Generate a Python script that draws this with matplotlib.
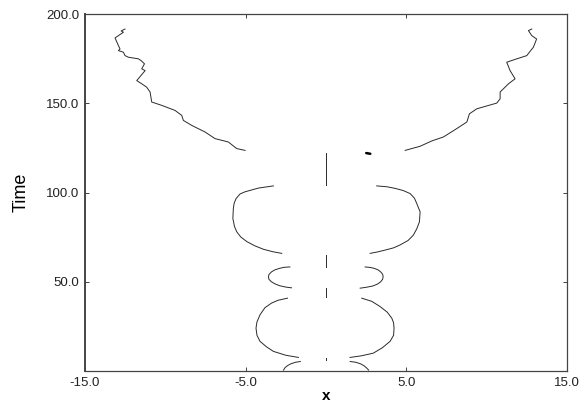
import matplotlib
matplotlib.use("Agg")
import matplotlib.pyplot as plt

plt.rcParams['font.family'] = ['Liberation Sans', 'DejaVu Sans']

# ---- data ----
x_ticks = [-15.0, -5.0, 5.0, 15.0]
y_ticks = [50.0, 100.0, 150.0, 200.0]

# bottom arcs
arc_left_x = [-2.65, -2.55, -2.4, -2.2, -1.9, -1.6]
arc_left_t = [0.5, 1.9, 3.0, 4.0, 4.9, 5.3]
arc_right_x = [1.5, 1.85, 2.15, 2.35, 2.5, 2.65]
arc_right_t = [5.3, 4.9, 4.0, 3.0, 1.9, 0.5]

# lobe 1 (t ~ 7 - 41)
lobe1_left_x = [-2.4, -3.0, -3.4, -3.8, -4.11, -4.3, -4.36, -4.3, -4.11, -3.7, -3.28, -2.5, -1.72]
lobe1_left_t = [40.8, 39.6, 38.0, 35.5, 31.5, 27.5, 24.0, 20.0, 16.6, 13.5, 11.0, 8.8, 7.6]
lobe1_right_x = [2.22, 2.85, 3.36, 3.8, 4.09, 4.2, 4.23, 4.2, 3.98, 3.5, 2.94, 2.2, 1.49]
lobe1_right_t = [40.8, 39.0, 36.1, 33.0, 29.6, 27.0, 24.0, 20.0, 16.6, 13.0, 10.0, 8.5, 7.6]

# lobe 2 (t ~ 46 - 58)
lobe2_left_x = [-2.25, -2.6, -2.9, -3.2, -3.4, -3.55, -3.59, -3.55, -3.4, -3.2, -2.9, -2.5, -2.15]
lobe2_left_t = [58.3, 58.1, 57.5, 56.6, 55.5, 54.1, 52.7, 51.3, 50.0, 48.9, 47.8, 47.0, 46.6]
lobe2_right_x = [2.43, 2.75, 3.0, 3.25, 3.4, 3.52, 3.55, 3.52, 3.4, 3.2, 2.9, 2.5, 2.12]
lobe2_right_t = [58.3, 58.0, 57.5, 56.6, 55.5, 54.2, 52.9, 51.4, 50.0, 48.7, 47.6, 46.9, 46.4]

# lobe 3 (t ~ 66 - 104)
lobe3_left_x = [-3.28, -4.2, -5.04, -5.35, -5.6, -5.72, -5.77, -5.8, -5.7, -5.56, -5.3, -4.93, -4.45, -3.9, -3.3, -2.76]
lobe3_left_t = [103.7, 102.5, 100.4, 99.2, 96.6, 94.0, 91.0, 85.5, 81.0, 78.0, 75.0, 72.5, 70.2, 68.2, 66.8, 65.9]
lobe3_right_x = [3.15, 3.8, 4.3, 4.8, 5.23, 5.5, 5.64, 5.85, 5.81, 5.65, 5.43, 5.1, 4.6, 4.2, 3.7, 3.2, 2.74]
lobe3_right_t = [103.7, 103.2, 102.3, 101.1, 99.4, 96.8, 93.9, 89.2, 83.6, 79.8, 76.1, 73.1, 70.6, 69.0, 67.8, 66.7, 65.9]

# upper fronts (t ~ 123 - 192)
upper_left_x = [-5.04, -5.56, -6.08, -6.91, -7.53, -8.36, -8.88, -8.98, -9.4, -10.22,
                -10.85, -10.95, -11.16, -11.47, -11.78, -11.26, -11.47, -11.3, -11.51,
                -11.68, -12.3, -12.51, -12.61, -12.92, -12.82, -12.92, -13.13, -12.61,
                -12.75, -12.51]
upper_left_t = [123.6, 124.6, 128.3, 130.2, 133.9, 137.6, 140.4, 143.2, 146.0, 148.8,
                150.7, 156.3, 159.0, 160.9, 162.7, 168.3, 169.3, 172.1, 173.9,
                174.9, 175.8, 176.7, 178.6, 179.5, 180.4, 182.3, 186.6, 189.8,
                190.5, 191.6]
upper_right_x = [4.92, 5.85, 6.58, 7.3, 8.13, 8.76, 8.92, 9.38, 10.62, 10.83, 10.83,
                 11.35, 11.76, 11.45, 11.24, 11.87, 12.49, 12.65, 12.9, 13.1, 12.8,
                 12.59, 12.8]
upper_right_t = [123.6, 125.9, 128.9, 131.1, 135.8, 139.5, 144.1, 146.9, 150.1, 152.5,
                 156.3, 160.9, 163.7, 168.3, 173.0, 174.9, 176.7, 178.6, 181.4, 186.0,
                 187.9, 190.7, 191.6]

# central segments at x = 0
center_t_start = [6.0, 41.7, 58.5, 104.0]
center_t_end = [7.5, 46.4, 65.0, 122.0]

# small mark near the top of the centre line
mark_x = [2.5, 2.75]
mark_t = [122.1, 121.7]

# ---- plotting ----
fig = plt.figure(figsize=(5.83, 4.04), dpi=100)
ax = fig.add_axes([0.1458, 0.0817, 0.827, 0.8836])

lc = '#2a2a2a'
lw = 0.7
pairs = [
    (arc_left_x, arc_left_t), (arc_right_x, arc_right_t),
    (lobe1_left_x, lobe1_left_t), (lobe1_right_x, lobe1_right_t),
    (lobe2_left_x, lobe2_left_t), (lobe2_right_x, lobe2_right_t),
    (lobe3_left_x, lobe3_left_t), (lobe3_right_x, lobe3_right_t),
    (upper_left_x, upper_left_t), (upper_right_x, upper_right_t),
]
for xs, ts in pairs:
    ax.plot(xs, ts, color=lc, lw=lw)

for t0, t1 in zip(center_t_start, center_t_end):
    ax.plot([0, 0], [t0, t1], color=lc, lw=lw)

ax.plot(mark_x, mark_t, color='black', lw=1.8, solid_capstyle='round')

ax.set_xlim(-15, 15)
ax.set_ylim(0, 200)
ax.set_xticks(x_ticks)
ax.set_yticks(y_ticks)
ax.set_xticklabels([f"{v:.1f}" for v in x_ticks])
ax.set_yticklabels([f"{v:.1f}" for v in y_ticks])
ax.tick_params(direction='in', length=3, width=0.6, labelsize=9.5,
               top=True, right=True, colors='#222222', pad=4)
for s in ax.spines.values():
    s.set_linewidth(0.9)
    s.set_color('#444444')
ax.spines['left'].set_linewidth(1.4)

ax.set_xlabel('x', fontsize=11, fontweight='bold', labelpad=0)
ax.set_ylabel('Time', fontsize=13, labelpad=12)

fig.savefig('out.png', dpi=100)
